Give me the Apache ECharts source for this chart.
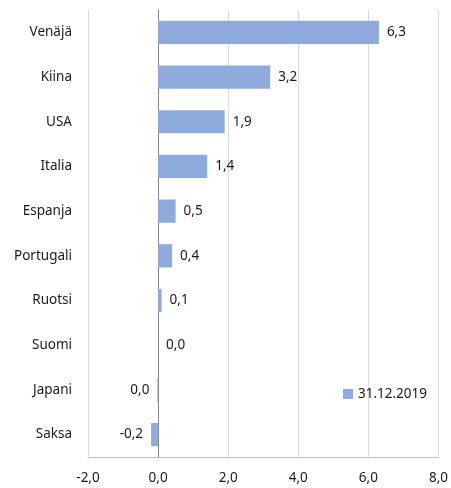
<!DOCTYPE html>
<html>
<head>
    <meta charset="utf-8" />
    <title>31.12.2019</title>
    <script src="https://cdn.jsdelivr.net/npm/echarts@6/dist/echarts.min.js"></script>
    <style>
        html, body { margin: 0; padding: 0; background: #fff; }
        #chart { width: 451px; height: 488px; }
    </style>
</head>
<body>
    <div id="chart"></div>
    <script type="text/javascript">
        // maat ylhäältä alas
        var maat = ['Venäjä', 'Kiina', 'USA', 'Italia', 'Espanja', 'Portugali', 'Ruotsi', 'Suomi', 'Japani', 'Saksa'];
        var arvot = [6.3, 3.2, 1.9, 1.4, 0.5, 0.4, 0.1, 0.0, -0.02, -0.2];
        var sarjanNimi = '31.12.2019';
        var xMin = -2, xMax = 8, xVali = 2;

        function pilkku(v) {
            if (Math.abs(v) < 0.05) return '0,0';
            return v.toFixed(1).replace('.', ',');
        }

        var fontti = 'Noto Sans';
        var koko = 13.5;
        var chart = echarts.init(document.getElementById('chart'));

        var data = arvot.map(function (v) {
            return {
                value: v,
                label: { position: v < 0 ? 'left' : 'right' }
            };
        });

        var option = {
            animation: false,
            textStyle: { fontFamily: fontti },
            grid: { left: 88, right: 9, top: 10, bottom: 31 },
            legend: {
                left: 338, top: 382,
                icon: 'rect',
                itemWidth: 10, itemHeight: 10, itemGap: 5,
                textStyle: { fontFamily: fontti, fontSize: koko, color: '#1a1a1a' },
                data: [sarjanNimi]
            },
            xAxis: {
                type: 'value',
                min: xMin, max: xMax, interval: xVali,
                axisLine: { show: true, lineStyle: { color: '#bfbfbf' } },
                axisTick: { show: false },
                axisLabel: {
                    margin: 14, fontSize: koko, color: '#1a1a1a', fontFamily: fontti,
                    formatter: function (v) { return pilkku(v); }
                },
                splitLine: { show: true, lineStyle: { color: '#d9d9d9' } }
            },
            yAxis: {
                type: 'category',
                inverse: true,
                data: maat,
                axisLine: { show: true, onZero: true, lineStyle: { color: '#868686' } },
                axisTick: { show: false },
                axisLabel: { margin: 16, fontSize: koko, color: '#1a1a1a', fontFamily: fontti }
            },
            series: [{
                name: sarjanNimi,
                type: 'bar',
                barCategoryGap: '48%',
                itemStyle: { color: '#8faadc' },
                label: {
                    show: true, distance: 8, fontSize: koko, color: '#1a1a1a', fontFamily: fontti,
                    formatter: function (p) { return pilkku(p.value); }
                },
                data: data
            }]
        };
        chart.setOption(option);
    </script>
</body>
</html>
